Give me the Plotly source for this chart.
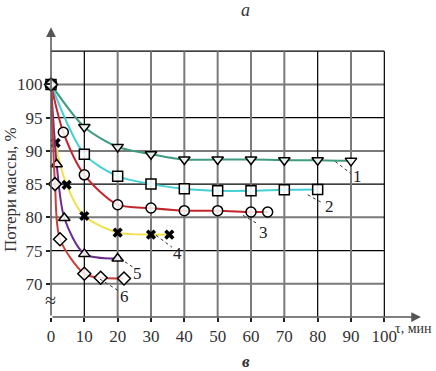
import plotly.graph_objects as go

# ---- data ----
x1 = [0, 10, 20, 30, 40, 50, 60, 70, 80, 90]
y1 = [100, 93.6, 90.6, 89.5, 88.7, 88.7, 88.7, 88.6, 88.6, 88.5]
x2 = [0, 10, 20, 30, 40, 50, 60, 70, 80]
y2 = [100, 89.5, 86.2, 85.0, 84.3, 84.0, 84.0, 84.15, 84.2]
x3 = [0, 3.7, 10, 20, 30, 40, 50, 60, 65]
y3 = [100, 92.8, 86.4, 81.9, 81.4, 81.0, 81.0, 80.8, 80.8]
x4 = [0, 1.4, 4.7, 10, 20, 30, 35.5]
y4 = [100, 91.2, 84.9, 80.2, 77.7, 77.4, 77.4]
x5 = [0, 1.7, 4.0, 10, 20]
y5 = [100, 88.0, 79.9, 74.5, 73.8]
x6 = [0, 1.2, 2.7, 10, 14.9, 21.9]
y6 = [100, 85.0, 76.7, 71.5, 70.9, 70.8]

x_ticks = [0, 10, 20, 30, 40, 50, 60, 70, 80, 90, 100]
y_ticks = [70, 75, 80, 85, 90, 95, 100]

curve_labels = ["1", "2", "3", "4", "5", "6"]
label_pos = [(91.8, 86.1), (83.4, 81.7), (63.6, 77.7), (37.8, 74.6), (25.8, 71.6), (21.9, 68.1)]
leader_from = [(85.3, 88.4), (77.0, 83.4), (57.6, 80.3), (31.5, 77.3), (20.7, 73.8), (14.7, 70.7)]
leader_to = [(89.9, 86.6), (81.3, 82.2), (62.1, 79.0), (36.3, 75.5), (24.6, 72.5), (20.1, 69.0)]

series = [
    (x1, y1, "#3f9c80", "triangle-down"),
    (x2, y2, "#45d0d4", "square"),
    (x3, y3, "#c4252d", "circle"),
    (x4, y4, "#f0e04a", "x"),
    (x5, y5, "#6b2c8c", "triangle-up"),
    (x6, y6, "#c8403c", "diamond"),
]

FONT = "'Liberation Serif', 'Times New Roman', serif"
W, H = 436, 371
L, T, B = 51, 18, 54
PW, PH = W - L, H - T - B   # 385 x 299
XMAX, YMIN, YMAX = 115.5, 65, 110

fig = go.Figure()

for xs, ys, col, sym in series:
    if sym == "x":
        mk = dict(symbol="x", size=9, color="black", line=dict(width=0))
    else:
        mk = dict(symbol=sym, size=10, color="rgba(255,255,255,0.85)", line=dict(color="black", width=1.5))
    fig.add_trace(go.Scatter(x=xs, y=ys, mode="lines+markers",
                             line=dict(color=col, width=2, shape="spline", smoothing=0.8),
                             marker=mk, showlegend=False, cliponaxis=False, hoverinfo="skip"))

shapes = []
gray = "#7a7a7a"
for yv in [70, 75, 80, 85, 90, 95, 100, 105]:
    black = yv in (75, 85, 95, 105)
    shapes.append(dict(type="line", xref="x", yref="y", x0=0, x1=100, y0=yv, y1=yv,
                       line=dict(color="black" if black else gray, width=1.2 if black else 2),
                       layer="below"))
for xv in [10, 20, 30, 40, 50, 60, 70, 80, 90, 100]:
    black = xv in (10, 80, 100)
    shapes.append(dict(type="line", xref="x", yref="y", x0=xv, x1=xv, y0=65, y1=105,
                       line=dict(color="black" if black else gray, width=1.2 if black else 2),
                       layer="below"))
for (fx, fy), (tx, ty) in zip(leader_from, leader_to):
    shapes.append(dict(type="line", xref="x", yref="y", x0=fx, y0=fy, x1=tx, y1=ty,
                       line=dict(color="#333", width=1, dash="dot")))

annotations = []
annotations.append(dict(x=0, y=108.6, ax=0, ay=65, xref="x", yref="y", axref="x", ayref="y",
                        showarrow=True, arrowhead=2, arrowsize=1.3, arrowwidth=1.5,
                        arrowcolor="#555", text=""))
annotations.append(dict(x=111, y=65, ax=0, ay=65, xref="x", yref="y", axref="x", ayref="y",
                        showarrow=True, arrowhead=2, arrowsize=1.3, arrowwidth=1.5,
                        arrowcolor="#555", text=""))
for t, (lx, ly) in zip(curve_labels, label_pos):
    annotations.append(dict(x=lx, y=ly, xref="x", yref="y", text=t, showarrow=False,
                            xanchor="center", yanchor="middle",
                            font=dict(family=FONT, size=17, color="#222")))


def paper_ann(px, py, text, size, **kw):
    """place text centred on a page pixel"""
    fx = (px - L) / PW
    fy = 1 - (py - T) / PH
    d = dict(x=fx, y=fy, xref="paper", yref="paper", text=text, showarrow=False,
             xanchor="center", yanchor="middle",
             font=dict(family=FONT, size=size, color="#333"))
    d.update(kw)
    return d


annotations.append(paper_ann(50, 300, "≈", 20))
annotations.append(paper_ann(11, 190, "Потери массы, %", 17, textangle=-90))
annotations.append(paper_ann(413, 328, "τ, мин", 14))
annotations.append(paper_ann(246, 10, "<i>а</i>", 18))
annotations.append(paper_ann(246, 362, "<b><i>в</i></b>", 17))

fig.update_layout(
    width=W, height=H,
    margin=dict(l=L, r=0, t=T, b=B),
    paper_bgcolor="white", plot_bgcolor="white",
    shapes=shapes, annotations=annotations,
    hovermode=False,
    xaxis=dict(range=[0, XMAX], showgrid=False, zeroline=False, showline=False,
               tickvals=x_ticks, ticktext=[str(v) for v in x_ticks],
               ticks="outside", ticklen=4, tickcolor="#222", tickwidth=1.5,
               tickfont=dict(family=FONT, size=17, color="#333")),
    yaxis=dict(range=[YMIN, YMAX], showgrid=False, zeroline=False, showline=False,
               tickvals=y_ticks, ticktext=[str(v) for v in y_ticks],
               ticks="outside", ticklen=4, tickcolor="#222", tickwidth=1.5,
               tickfont=dict(family=FONT, size=17, color="#333")),
)

fig.write_html("out.html", config={"displayModeBar": False},
               post_script=["document.body.style.margin='0px';"])
